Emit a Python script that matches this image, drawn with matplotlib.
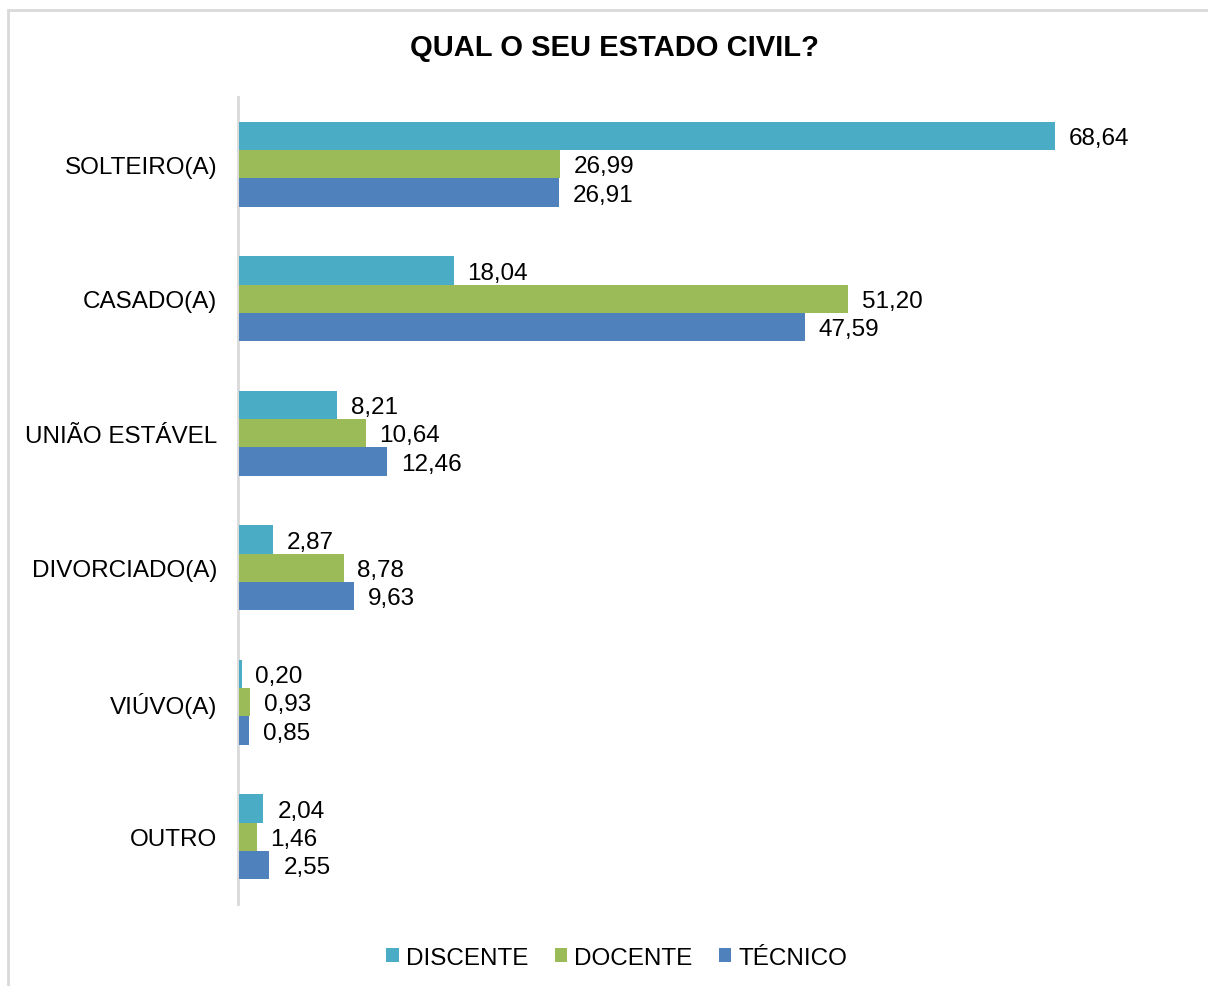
import matplotlib.pyplot as plt
import numpy as np
from matplotlib.patches import Rectangle

plt.rcParams['font.family'] = ['Liberation Sans', 'DejaVu Sans']

categories = ['SOLTEIRO(A)', 'CASADO(A)', 'UNIÃO ESTÁVEL', 'DIVORCIADO(A)', 'VIÚVO(A)', 'OUTRO']
discente = [68.64, 18.04, 8.21, 2.87, 0.20, 2.04]
docente = [26.99, 51.20, 10.64, 8.78, 0.93, 1.46]
tecnico = [26.91, 47.59, 12.46, 9.63, 0.85, 2.55]
series_names = ['DISCENTE', 'DOCENTE', 'TÉCNICO']
colors = ['#4BACC6', '#9BBB59', '#4F81BD']

fig = plt.figure(figsize=(12.08, 9.87), dpi=100)
# light gray chart border
fig.patches.append(Rectangle((8 / 1208, -0.01), 1.0, 1 - 11 / 987 + 0.01,
                             transform=fig.transFigure, fill=False,
                             edgecolor='#D9D9D9', linewidth=2))

ax = fig.add_axes([238 / 1208, 1 - 905 / 987, (1190 - 238) / 1208, (905 - 98) / 987])

y = np.arange(len(categories))
h = 0.21
for i, (vals, name, c) in enumerate(zip([discente, docente, tecnico], series_names, colors)):
    pos = y + (i - 1) * h
    bars = ax.barh(pos, vals, height=h, color=c, label=name, zorder=3)
    for b, v in zip(bars, vals):
        ax.annotate(f'{v:.2f}'.replace('.', ','), (v, b.get_y() + h / 2),
                    xytext=(10, -1.5), textcoords='offset points',
                    va='center', ha='left', fontsize=17.5, color='#000000')

ax.set_xlim(-0.1, 80)
ax.set_ylim(len(categories) - 0.5, -0.5)
ax.set_yticks(y)
ax.set_yticklabels(categories, fontsize=17.5)
ax.tick_params(axis='y', length=0, pad=15)
ax.set_xticks([])
for s in ['top', 'right', 'bottom']:
    ax.spines[s].set_visible(False)
ax.spines['left'].set_color('#D9D9D9')
ax.spines['left'].set_linewidth(2)
ax.spines['left'].set_zorder(1)

fig.text(614 / 1208, 1 - 48 / 987, 'QUAL O SEU ESTADO CIVIL?', ha='center', va='center',
         fontsize=21, fontweight='bold')

fig.legend(loc='center', bbox_to_anchor=(617 / 1208, 1 - 959 / 987), ncol=3,
           frameon=False, fontsize=17.5, handlelength=0.5, handleheight=0.5,
           handletextpad=0.3, columnspacing=1.1)

fig.savefig('out.png', dpi=100)
